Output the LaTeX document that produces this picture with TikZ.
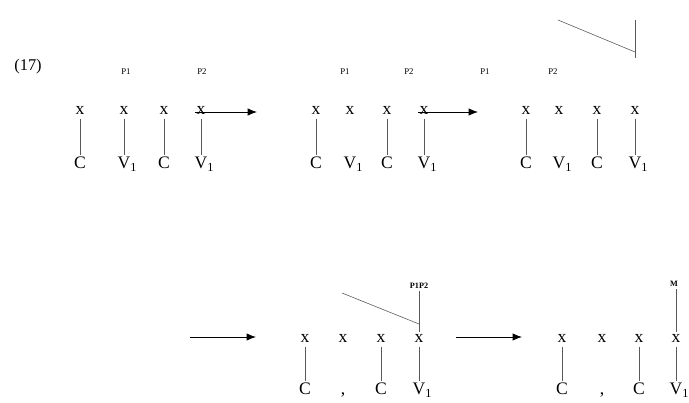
\documentclass[tikz,border=0pt]{standalone}
\usepackage{fontspec}
\setmainfont{Liberation Serif}
\usetikzlibrary{arrows.meta}

\begin{document}
\begin{tikzpicture}[x=0.03cm, y=-0.03cm,
    slot/.style={font=\fontsize{15}{17}\selectfont, inner sep=1pt, anchor=base},
    seg/.style={font=\fontsize{15}{17}\selectfont, inner sep=1pt, anchor=base},
    tone/.style={font=\fontsize{7.5}{8}\selectfont, inner sep=1pt},
    link/.style={draw=black!65, line width=0.5pt, shorten <=2pt, shorten >=1pt},
    go/.style={-{Latex[length=2.8mm,width=2.2mm]}, line width=0.7pt}]
    \useasboundingbox (0,0) rectangle (689,403);

    \node[font=\fontsize{14}{16}\selectfont] (num) at (28,67) {(17)};

    % first stage
    \node[tone] (pa1) at (126,72) {P1};
    \node[tone] (pa2) at (202,72) {P2};
    \node[slot] (xa1) at (80,115) {x};
    \node[slot] (xa2) at (124,115) {x};
    \node[slot] (xa3) at (164,115) {x};
    \node[slot] (xa4) at (201,115) {x};
    \node[seg] (sa1) at (80,169) {C};
    \node[seg] (sa2) at (124,169) {V\rlap{\textsubscript{1}}};
    \node[seg] (sa3) at (164,169) {C};
    \node[seg] (sa4) at (201,169) {V\rlap{\textsubscript{1}}};
    \draw[link] (xa1) -- (sa1);
    \draw[link] (xa2) -- (sa2);
    \draw[link] (xa3) -- (sa3);
    \draw[link] (xa4) -- (sa4);
    \coordinate (ea) at (257,112);
    \draw[go] (xa4.west |- ea) -- (ea);

    % second stage
    \node[tone] (pb1) at (345,72) {P1};
    \node[tone] (pb2) at (409,72) {P2};
    \node[slot] (xb1) at (316,115) {x};
    \node[slot] (xb2) at (350,115) {x};
    \node[slot] (xb3) at (387,115) {x};
    \node[slot] (xb4) at (424,115) {x};
    \node[seg] (sb1) at (316,169) {C};
    \node[seg] (sb2) at (350,169) {V\rlap{\textsubscript{1}}};
    \node[seg] (sb3) at (387,169) {C};
    \node[seg] (sb4) at (424,169) {V\rlap{\textsubscript{1}}};
    \draw[link] (xb1) -- (sb1);
    \draw[link] (xb3) -- (sb3);
    \draw[link] (xb4) -- (sb4);
    \coordinate (eb) at (478,112);
    \draw[go] (xb4.west |- eb) -- (eb);

    % third stage
    \node[tone] (pc1) at (485,72) {P1};
    \node[tone] (pc2) at (553,72) {P2};
    \node[slot] (xc1) at (526,115) {x};
    \node[slot] (xc2) at (559,115) {x};
    \node[slot] (xc3) at (597,115) {x};
    \node[slot] (xc4) at (635,115) {x};
    \node[seg] (sc1) at (526,169) {C};
    \node[seg] (sc2) at (559,169) {V\rlap{\textsubscript{1}}};
    \node[seg] (sc3) at (597,169) {C};
    \node[seg] (sc4) at (635,169) {V\rlap{\textsubscript{1}}};
    \draw[link] (xc1) -- (sc1);
    \draw[link] (xc3) -- (sc3);
    \draw[link] (xc4) -- (sc4);
    \coordinate (ct) at (558,20);
    \coordinate (cj) at (635,52);
    \coordinate (cv) at (635,20);
    \coordinate (cb) at (635,58);
    \draw[link, shorten <=0pt, shorten >=0pt] (ct) -- (cj);
    \draw[link, shorten <=0pt, shorten >=0pt] (cv) -- (cb);

    % fourth stage
    \coordinate (ud1) at (190,337);
    \coordinate (ud2) at (256,337);
    \draw[go] (ud1) -- (ud2);
    \node[tone, font=\fontsize{7}{8}\selectfont\bfseries] (pd) at (419,286) {P1P2};
    \node[slot] (xd1) at (305,343) {x};
    \node[slot] (xd2) at (343,343) {x};
    \node[slot] (xd3) at (381,343) {x};
    \node[slot] (xd4) at (419,343) {x};
    \node[seg] (sd1) at (305,395) {C};
    \node[seg] (sd2) at (343,395) {,};
    \node[seg] (sd3) at (381,395) {C};
    \node[seg] (sd4) at (419,395) {V\rlap{\textsubscript{1}}};
    \draw[link] (xd1) -- (sd1);
    \draw[link] (xd3) -- (sd3);
    \draw[link] (xd4) -- (sd4);
    \draw[link, shorten <=1pt] (pd) -- (xd4);
    \coordinate (dt) at (342,293);
    \coordinate (dj) at (419,324);
    \draw[link, shorten <=0pt, shorten >=0pt] (dt) -- (dj);

    % fifth stage
    \coordinate (ue1) at (456,337);
    \coordinate (ue2) at (522,337);
    \draw[go] (ue1) -- (ue2);
    \node[tone, font=\fontsize{7}{8}\selectfont\bfseries] (me) at (674,284) {M};
    \node[slot] (xe1) at (562,343) {x};
    \node[slot] (xe2) at (602,343) {x};
    \node[slot] (xe3) at (639,343) {x};
    \node[slot] (xe4) at (676,343) {x};
    \node[seg] (se1) at (562,395) {C};
    \node[seg] (se2) at (602,395) {,};
    \node[seg] (se3) at (639,395) {C};
    \node[seg] (se4) at (676,395) {V\rlap{\textsubscript{1}}};
    \draw[link] (xe1) -- (se1);
    \draw[link] (xe3) -- (se3);
    \draw[link] (xe4) -- (se4);
    \draw[link, shorten <=1pt] (me.south -| xe4) -- (xe4);
\end{tikzpicture}
\end{document}
